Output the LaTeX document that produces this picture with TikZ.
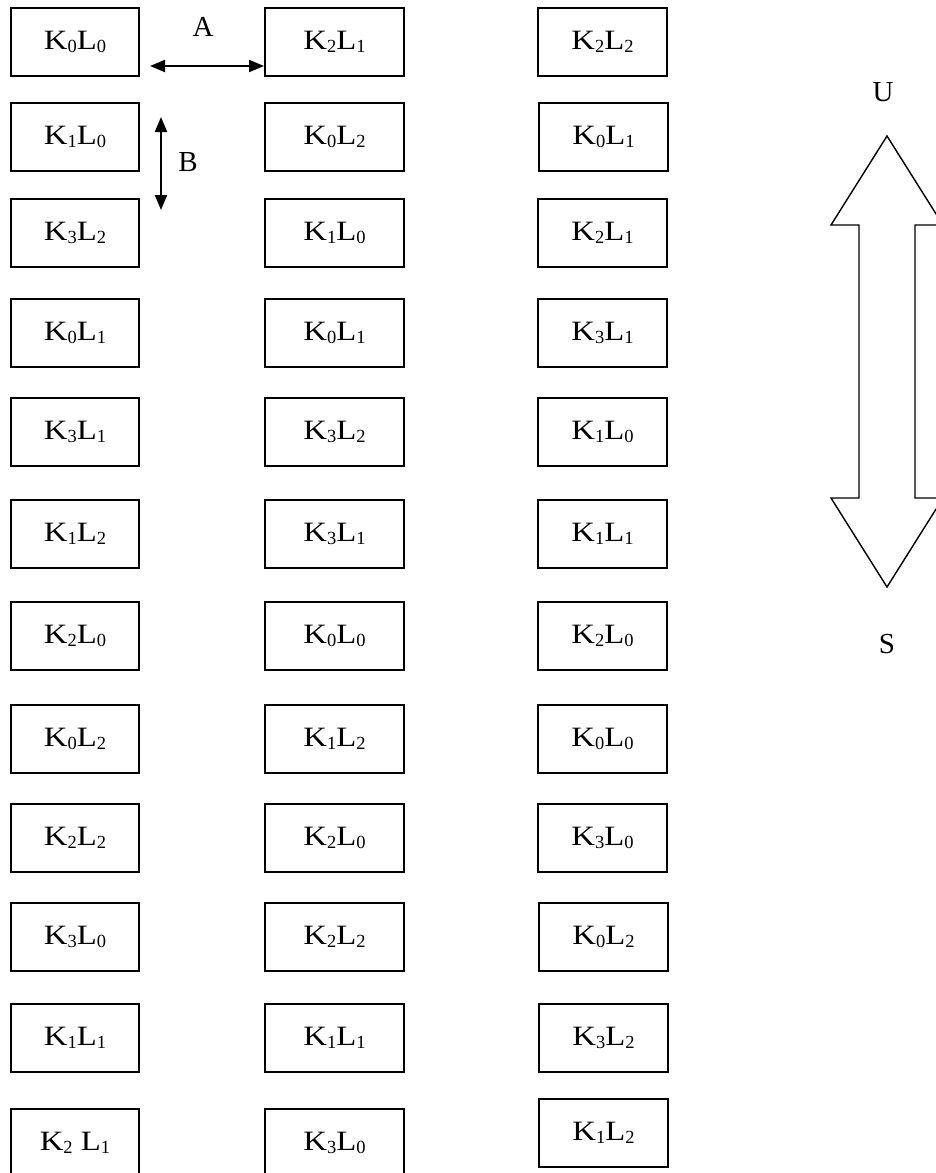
\documentclass[tikz,border=0pt]{standalone}
\usepackage{fontspec}
\setmainfont{Liberation Serif}
\newfontfamily\boxfont{Liberation Serif}[FakeStretch=1.17]
\usetikzlibrary{arrows.meta}
\newcommand\lsub[1]{\raisebox{-3pt}{\fontsize{18.5}{18.5}\selectfont\rmfamily #1}}
\newcommand\kl[2]{{\boxfont\fontsize{28}{28}\selectfont K\lsub{#1}L\lsub{#2}}}
\tikzset{
  kbox/.style={draw, line width=2pt, inner sep=0pt, minimum height=68pt, text height=18pt, text depth=3pt},
  kcolA/.style={kbox, minimum width=128pt},
  kcolB/.style={kbox, minimum width=139pt},
  kcolC/.style={kbox, minimum width=129pt},
  lbl/.style={font=\fontsize{29}{29}\selectfont, inner sep=0pt},
  dblarrow/.style={line width=2pt, {Triangle[length=15pt,width=12pt]}-{Triangle[length=15pt,width=12pt]}},
  bigarrow/.style={draw, line width=1.4pt, line join=miter}
}
\begin{document}
\begin{tikzpicture}[x=1pt,y=-1pt]
\useasboundingbox (0,0) rectangle (935,1173);
% column 1
\node[kcolA] (a1) at (75,42) {\kl00};
\node[kcolA] (a2) at (75,137) {\kl10};
\node[kcolA] (a3) at (75,233) {\kl32};
\node[kcolA] (a4) at (75,333) {\kl01};
\node[kcolA] (a5) at (75,432) {\kl31};
\node[kcolA] (a6) at (75,534) {\kl12};
\node[kcolA] (a7) at (75,636) {\kl20};
\node[kcolA] (a8) at (75,739) {\kl02};
\node[kcolA] (a9) at (75,838) {\kl22};
\node[kcolA] (a10) at (75,937) {\kl30};
\node[kcolA] (a11) at (75,1038) {\kl11};
\node[kcolA] (a12) at (75,1143) {{\boxfont\fontsize{28}{28}\selectfont K\lsub{2} L\lsub{1}}};
% column 2
\node[kcolB] (b1) at (334.5,42) {\kl21};
\node[kcolB] (b2) at (334.5,137) {\kl02};
\node[kcolB] (b3) at (334.5,233) {\kl10};
\node[kcolB] (b4) at (334.5,333) {\kl01};
\node[kcolB] (b5) at (334.5,432) {\kl32};
\node[kcolB] (b6) at (334.5,534) {\kl31};
\node[kcolB] (b7) at (334.5,636) {\kl00};
\node[kcolB] (b8) at (334.5,739) {\kl12};
\node[kcolB] (b9) at (334.5,838) {\kl20};
\node[kcolB] (b10) at (334.5,937) {\kl22};
\node[kcolB] (b11) at (334.5,1038) {\kl11};
\node[kcolB] (b12) at (334.5,1143) {\kl30};
% column 3
\node[kcolC] (c1) at (602.5,42) {\kl22};
\node[kcolC] (c2) at (603.5,137) {\kl01};
\node[kcolC] (c3) at (602.5,233) {\kl21};
\node[kcolC] (c4) at (602.5,333) {\kl31};
\node[kcolC] (c5) at (602.5,432) {\kl10};
\node[kcolC] (c6) at (602.5,534) {\kl11};
\node[kcolC] (c7) at (602.5,636) {\kl20};
\node[kcolC] (c8) at (602.5,739) {\kl00};
\node[kcolC] (c9) at (602.5,838) {\kl30};
\node[kcolC] (c10) at (603.5,937) {\kl02};
\node[kcolC] (c11) at (603.5,1038) {\kl32};
\node[kcolC] (c12) at (603.5,1133) {\kl12};
% arrow A
\coordinate (aLeft) at (150,66);
\draw[dblarrow] (aLeft) -- (aLeft -| b1.west);
\node[lbl] (labA) at (203,27) {A};
% arrow B
\coordinate (bTop) at (161,117);
\coordinate (bBot) at (161,210);
\draw[dblarrow] (bTop) -- (bBot);
\node[lbl] (labB) at (188,162) {B};
% big double arrow
\draw[bigarrow] (887,136) -- (943,225) -- (915,225) -- (915,498) -- (943,498) -- (887,587)
  -- (831,498) -- (859,498) -- (859,225) -- (831,225) -- cycle;
\node[lbl] (labU) at (883,92) {U};
\node[lbl] (labS) at (887,644) {S};
\end{tikzpicture}
\end{document}
